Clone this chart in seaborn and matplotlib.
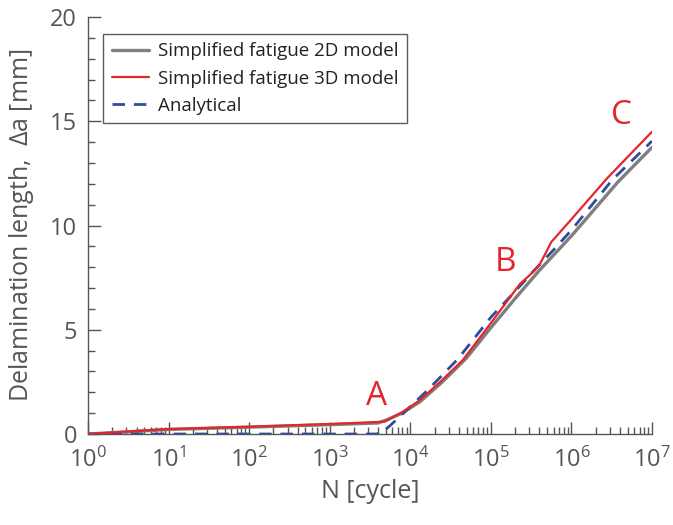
import numpy as np
import pandas as pd
import matplotlib
matplotlib.use("Agg")
import matplotlib.pyplot as plt
import seaborn as sns
from matplotlib.ticker import LogLocator, FixedLocator, MultipleLocator, FuncFormatter

# ---- data: number of cycles N and delamination length (mm) ----
n_2d = [1, 10, 100, 1000, 4000, 5250, 7900, 1.32e4, 2.5e4, 5e4, 1e5, 2e5, 4e5, 1e6, 3.8e6, 1e7]
a_2d = [0, 0.22, 0.33, 0.45, 0.53, 0.7, 1.0, 1.55, 2.5, 3.65, 5.1, 6.5, 7.85, 9.5, 12.1, 13.75]

n_3d = [1, 10, 100, 1000, 4800, 6000, 8100, 1.32e4, 2.35e4, 4.5e4, 1e5, 2.3e5,
        3.0e5, 4.0e5, 4.9e5, 5.6e5, 1e6, 2.75e6, 1e7]
a_3d = [0, 0.24, 0.35, 0.48, 0.59, 0.8, 1.07, 1.63, 2.5, 3.55, 5.32, 7.2,
        7.6, 8.1, 8.75, 9.2, 10.3, 12.25, 14.5]

n_an = [1, 3800, 4570, 5600, 7100, 1e4, 1.74e4, 3.9e4, 1e5, 1.9e5, 3.55e5, 5.9e5, 1e6, 3.2e6, 1e7]
a_an = [0, 0, 0.1, 0.4, 0.77, 1.31, 2.2, 3.6, 5.6, 6.75, 7.9, 8.8, 9.78, 12.18, 14.05]

labels = ["Simplified fatigue 2D model", "Simplified fatigue 3D model", "Analytical"]
x_ticks = [1e0, 1e1, 1e2, 1e3, 1e4, 1e5, 1e6, 1e7]
y_ticks = [0, 5, 10, 15, 20]
# stage markers (label centre in data coordinates)
points = {"A": (3850, 1.8), "B": (1.5e5, 8.25), "C": (4.2e6, 15.3)}

sns.set_theme(style="white")
font = "Open Sans"
plt.rcParams["font.family"] = [font, "DejaVu Sans"]
plt.rcParams["mathtext.fontset"] = "custom"
plt.rcParams["mathtext.rm"] = font
plt.rcParams["mathtext.it"] = font
plt.rcParams["mathtext.default"] = "regular"

axis_col = "#555555"
red = "#e3262d"
grey = "#7f7f7f"
blue = "#2e4d9c"

fig = plt.figure(figsize=(6.73, 5.25), dpi=100)
ax = fig.add_axes([0.1308, 0.1733, 0.8380, 0.7943])

df_2d = pd.DataFrame({"N": n_2d, "a": a_2d})
df_3d = pd.DataFrame({"N": n_3d, "a": a_3d})
df_an = pd.DataFrame({"N": n_an, "a": a_an})

sns.lineplot(data=df_2d, x="N", y="a", ax=ax, color=grey, lw=2.4,
             label=labels[0], sort=False, zorder=2)
sns.lineplot(data=df_3d, x="N", y="a", ax=ax, color=red, lw=1.6,
             label=labels[1], sort=False, zorder=4)
sns.lineplot(data=df_an, x="N", y="a", ax=ax, color=blue, lw=2.0,
             label=labels[2], sort=False, zorder=3)
ax.lines[2].set_dashes([4.5, 3.2])

ax.set_xscale("log")
ax.set_xlim(1, 1e7)
ax.set_ylim(0, 20)

ax.xaxis.set_major_locator(FixedLocator(x_ticks))
ax.xaxis.set_minor_locator(LogLocator(base=10, subs=np.arange(2, 10), numticks=20))
ax.xaxis.set_major_formatter(FuncFormatter(lambda v, p: r"$10^{%d}$" % round(np.log10(v))))
ax.yaxis.set_major_locator(FixedLocator(y_ticks))
ax.yaxis.set_minor_locator(MultipleLocator(1))

for side in ["top", "right"]:
    ax.spines[side].set_visible(False)
for side in ["left", "bottom"]:
    ax.spines[side].set_color(axis_col)
    ax.spines[side].set_linewidth(1.0)

ax.tick_params(axis="both", which="both", direction="in", colors=axis_col,
               labelcolor=axis_col, labelsize=17)
ax.tick_params(axis="both", which="major", length=9, width=1.0)
ax.tick_params(axis="both", which="minor", length=5, width=1.0)
ax.tick_params(axis="x", which="major", pad=10)
ax.tick_params(axis="y", which="major", pad=8)
ax.xaxis.set_ticks_position("bottom")
ax.yaxis.set_ticks_position("left")

ax.set_xlabel("N [cycle]", fontsize=18, color=axis_col, labelpad=4)
ax.set_ylabel(r"Delamination length,  $\Delta$a [mm]", fontsize=18, color=axis_col, labelpad=10)

for name, (xp, yp) in points.items():
    ax.text(xp, yp, name, color=red, fontsize=24, ha="center", va="center")

leg = ax.legend(loc="upper left", bbox_to_anchor=(0.027, 0.96), fontsize=13.5,
                frameon=True, fancybox=False, handlelength=2.0, handletextpad=0.45,
                borderpad=0.45, labelspacing=0.5, borderaxespad=0)
leg.get_frame().set_edgecolor("#333333")
leg.get_frame().set_linewidth(1.0)
for t in leg.get_texts():
    t.set_color("#222222")

fig.savefig("out.png", dpi=100)
